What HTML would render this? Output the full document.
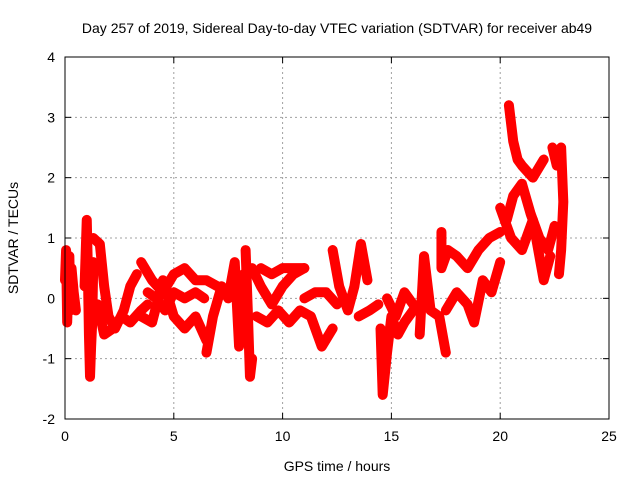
<!DOCTYPE html>
<html><head><meta charset="utf-8"><style>
html,body{margin:0;padding:0;background:#fff;width:640px;height:480px;overflow:hidden}
svg{display:block;font-family:"Liberation Sans",sans-serif}
</style></head><body>
<svg id="chart" width="640" height="480">
<text x="337" y="33" font-size="14" text-anchor="middle">Day 257 of 2019, Sidereal Day-to-day VTEC variation (SDTVAR) for receiver ab49</text>
<text x="337" y="471" font-size="14" text-anchor="middle">GPS time / hours</text>
<text transform="translate(18,238) rotate(-90)" font-size="14" text-anchor="middle">SDTVAR / TECUs</text>
<g id="grid"></g><g id="marks"></g>
<rect x="65" y="57" width="544" height="362" fill="none" stroke="#000" stroke-width="1"/>
</svg>
<script>
const xTicks=[0,5,10,15,20,25];
const yTicks=[-2,-1,0,1,2,3,4];
const trackA=[[0,0.3],[0.05,0.8],[0.1,-0.4],[0.2,0.7],[0.25,-0.2],[0.3,0.5],[0.4,0.1],[0.5,-0.2]];
const trackB=[[0.9,0.2],[1.0,1.3],[1.05,0.5],[1.1,-0.6],[1.15,-1.3],[1.2,-0.8],[1.25,-0.4],[1.3,0.6]];
const trackC=[[1.3,1.0],[1.6,0.9],[1.8,0.2],[2.0,-0.3],[2.3,-0.5],[2.7,-0.2],[3.0,0.2],[3.3,0.4]];
const trackD=[[1.5,-0.1],[1.8,-0.6],[2.2,-0.5],[2.6,-0.3],[3.0,-0.4],[3.5,-0.2],[3.8,-0.1]];
const trackE=[[3.5,0.6],[4,0.3],[4.5,0.1],[5,0.4],[5.5,0.5],[6,0.3],[6.5,0.3],[7,0.2]];
const trackF=[[3.5,-0.3],[4,-0.4],[4.5,0.3],[5,-0.3],[5.5,-0.5],[6,-0.3],[6.5,-0.7]];
const trackF2=[[3.8,0.1],[4.2,0.0],[4.6,-0.2],[5.0,0.1],[5.5,0.0],[6.0,0.1],[6.4,0.0]];
const trackG=[[6.5,-0.9],[6.8,-0.3],[7.2,0.2],[7.5,0],[7.8,0.6],[8,-0.8],[8.2,0.4]];
const trackH=[[8.3,0.8],[8.4,-0.2],[8.5,-1.3],[8.6,-1.0]];
const trackI=[[8.6,0.5],[9,0.2],[9.5,-0.1],[10,0.2],[10.5,0.4],[11,0.5]];
const trackI2=[[9.0,0.5],[9.5,0.4],[10,0.5],[10.5,0.5],[11,0.5]];
const trackJ=[[8.8,-0.3],[9.3,-0.4],[9.8,-0.2],[10.3,-0.4],[10.8,-0.2],[11.3,-0.3],[11.8,-0.8],[12.3,-0.5]];
const trackK=[[11,0],[11.5,0.1],[12,0.1],[12.5,-0.1]];
const trackL=[[12.3,0.8],[12.6,0.2],[13,-0.2],[13.3,0.2],[13.6,0.9],[13.9,0.3]];
const trackM=[[13.5,-0.3],[14,-0.2],[14.4,-0.1]];
const trackN=[[14.5,-0.5],[14.6,-1.6],[14.8,-0.9],[15,-0.3],[15.3,-0.6],[15.6,-0.4],[16,-0.2]];
const trackO=[[14.8,0],[15.2,-0.3],[15.6,0.1],[16,-0.1]];
const trackP=[[16.3,-0.6],[16.5,0.7],[16.8,-0.2],[17.2,-0.3],[17.5,-0.9]];
const trackQ=[[17.3,1.1],[17.3,0.5],[17.6,0.8],[18,0.7],[18.5,0.5],[19,0.8],[19.5,1.0],[20,1.1]];
const trackR=[[17.5,-0.2],[18,0.1],[18.5,-0.1],[18.8,-0.4],[19.2,0.3],[19.6,0.1],[20,0.6]];
const trackS=[[20.4,3.2],[20.6,2.6],[20.8,2.3],[21,2.2],[21.5,2.0],[22,2.3]];
const trackT=[[20.3,1.3],[20.6,1.7],[21,1.9],[21.4,1.4],[21.8,1.0],[22.2,0.8],[22.5,1.2]];
const trackU=[[20,1.5],[20.5,1.0],[21,0.8],[21.5,1.3],[22,0.3],[22.3,0.7]];
const trackV=[[22.4,2.5],[22.6,2.2],[22.8,2.5],[22.9,1.6],[22.8,0.8],[22.7,0.4]];
const tracks=[trackA,trackB,trackC,trackD,trackE,trackF,trackF2,trackG,trackH,trackI,trackI2,trackJ,trackK,trackL,trackM,trackN,trackO,trackP,trackQ,trackR,trackS,trackT,trackU,trackV];
const NS="http://www.w3.org/2000/svg";
const X0=65,X1=609,Y0=419,Y1=57;
function sx(v){return X0+(v-0)/(25-0)*(X1-X0);}
function sy(v){return Y0-(v+2)/(4+2)*(Y0-Y1);}
const grid=document.getElementById('grid'),marks=document.getElementById('marks');
function el(t,a,p){const e=document.createElementNS(NS,t);for(const k in a)e.setAttribute(k,a[k]);p.appendChild(e);return e;}
xTicks.forEach(t=>{const x=sx(t);
 if(t>0&&t<25){const g=el('line',{x1:x,x2:x,y1:Y1,y2:Y0,stroke:'#a0a0a0','stroke-dasharray':'2,3'},grid);
 
 }
 el('line',{x1:x,x2:x,y1:Y0,y2:Y0-6,stroke:'#000'},grid);el('line',{x1:x,x2:x,y1:Y1,y2:Y1+6,stroke:'#000'},grid);
 const l=el('text',{x:x,y:Y0+22,'font-size':14,'text-anchor':'middle'},grid);l.textContent=t;
 
 });
yTicks.forEach(t=>{const y=sy(t);
 if(t>-2&&t<4){const g=el('line',{x1:X0,x2:X1,y1:y,y2:y,stroke:'#a0a0a0','stroke-dasharray':'2,3'},grid);
 
 }
 el('line',{x1:X0,x2:X0+6,y1:y,y2:y,stroke:'#000'},grid);el('line',{x1:X1,x2:X1-6,y1:y,y2:y,stroke:'#000'},grid);
 const l=el('text',{x:X0-10,y:y+5,'font-size':14,'text-anchor':'end'},grid);l.textContent=t;
 
 });
tracks.forEach(tr=>{
 const pl=el('polyline',{points:tr.map(p=>sx(p[0])+','+sy(p[1])).join(' '),fill:'none',stroke:'#ff0000','stroke-width':10,'stroke-linejoin':'round','stroke-linecap':'round'},marks);
 
 
 tr.forEach(p=>{const x=sx(p[0]),y=sy(p[1]);
  const m=el('path',{d:`M${x-4},${y}H${x+4}M${x},${y-4}V${y+4}`,stroke:'#ff0000','stroke-width':1.5},marks);
  
  });
});
</script>
</body></html>
